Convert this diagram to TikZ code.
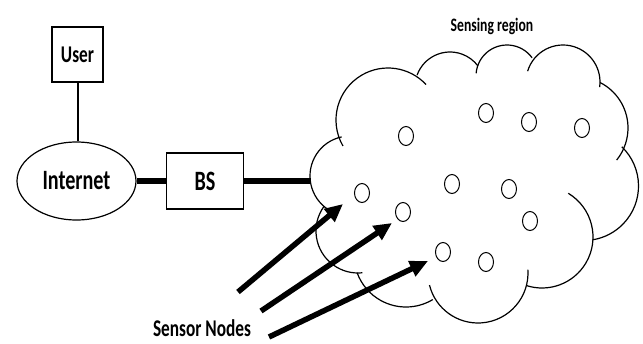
\documentclass[tikz,border=0pt]{standalone}
\usepackage{graphicx}
\usepackage{fontspec}
\setmainfont{Carlito}
\usetikzlibrary{shapes.geometric,arrows.meta}
\newcommand\sqtext[2]{\fontsize{#1}{#1}\selectfont\bfseries\scalebox{0.72}[1]{#2}}
\newcommand\lobe[5]{\draw[cloudarc] ([shift={(#4:#3)}]#1,#2) arc[start angle=#4, end angle=#5, radius=#3];}
\begin{document}
\begin{tikzpicture}[x=1pt,y=-1pt,
  box/.style={draw, line width=1.2pt, inner sep=0pt},
  oval/.style={draw, ellipse, line width=1.2pt, inner sep=0pt},
  sensor/.style={draw, ellipse, line width=1pt, minimum width=15pt, minimum height=19pt, inner sep=0pt},
  cloudarc/.style={line width=1.2pt},
  link/.style={line width=6pt},
  thinlink/.style={line width=2pt},
  pointer/.style={line width=5.5pt, -{Triangle[length=18pt,width=16pt]}}]
\useasboundingbox (0,0) rectangle (643,343);
\fill[white] (0,0) rectangle (643,343);

% left part
\node[box, minimum width=51pt, minimum height=55pt] (user) at (77.5,54.5) {\sqtext{24}{User}};
\node[oval, minimum width=119pt, minimum height=78pt] (internet) at (76.5,181) {\sqtext{28}{Internet}};
\node[box, minimum width=77pt, minimum height=56pt] (bs) at (205,181) {\sqtext{28}{BS}};
\coordinate (cloudW) at (310.5,181);

\draw[thinlink] (user.south) -- (user.south |- internet.north);
\draw[link] (internet) -- (bs);
\draw[link] (bs) -- (cloudW);

% cloud (sensing region)
\lobe{350}{176}{40}{258}{123}
\lobe{388}{120}{52}{150}{317}
\lobe{450}{87}{35}{200}{323}
\lobe{507}{76}{31}{185}{324}
\lobe{563}{82}{37}{197}{368}
\lobe{577}{128}{51}{297}{399}
\lobe{584}{186}{54.5}{314}{441}
\lobe{542}{237}{51}{301}{468}
\lobe{478}{273}{50}{-4}{166}
\lobe{406}{255}{52}{59}{160}
\lobe{358}{231}{42}{216}{84}

\node[anchor=base, inner sep=0pt] (title) at (492,31) {\sqtext{19}{Sensing region}};

% sensor nodes
\foreach \n/\x/\y in {1/406/136, 2/486/113, 3/529/122, 4/582/128, 5/362/193, 6/452/184,
  7/509/189, 8/403/212, 9/530/221, 10/443/252, 11/486/262}
  \node[sensor] (n\n) at (\x,\y) {};

% label and arrows
\node[anchor=base, inner sep=0pt] (label) at (202,336.5) {\sqtext{24}{Sensor Nodes}};
\coordinate (s1) at (238,292); \coordinate (t1) at (343,204);
\coordinate (s2) at (261,311); \coordinate (t2) at (392,223);
\coordinate (s3) at (269,337); \coordinate (t3) at (428,261);
\draw[pointer] (s1) -- (t1);
\draw[pointer] (s2) -- (t2);
\draw[pointer] (s3) -- (t3);
\end{tikzpicture}
\end{document}
